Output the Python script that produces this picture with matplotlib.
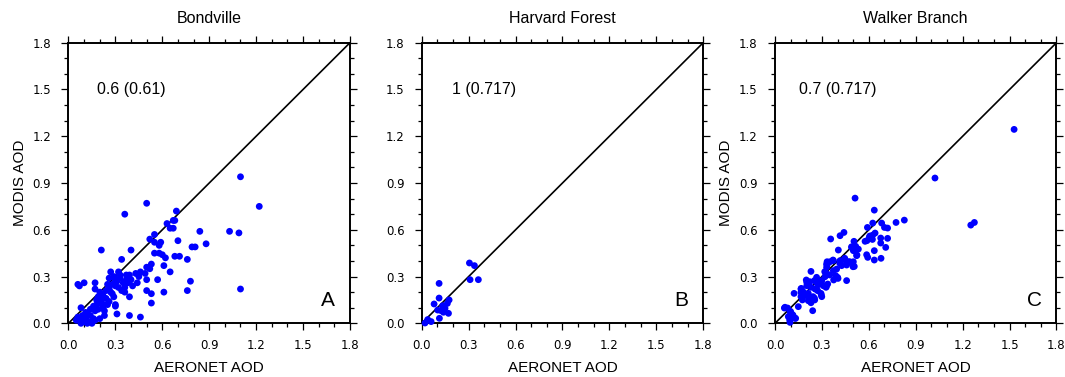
import numpy as np
import matplotlib
matplotlib.use('Agg')
import matplotlib.pyplot as plt
from matplotlib.ticker import MultipleLocator

plt.rcParams['font.family'] = ['Liberation Sans', 'DejaVu Sans']

# ---- data (AERONET AOD, MODIS AOD) ----
bond_x = [1.10, 1.22, 0.50, 0.36, 0.69, 0.68, 0.63, 0.67, 0.65, 0.67, 0.84, 1.03, 1.09,
          0.55, 0.52, 0.55, 0.59, 0.58, 0.70, 0.79, 0.81, 0.88, 0.21, 0.40, 0.55, 0.58,
          0.60, 0.62, 0.68, 0.71, 0.76, 0.34, 0.61, 0.50, 0.52, 0.53, 0.65, 0.27, 0.32,
          0.37, 0.39, 0.43, 0.45, 0.46, 0.50, 0.57, 0.78, 0.50, 0.53, 0.61, 0.76, 1.10,
          0.53, 0.39, 0.46, 0.31, 0.30, 0.06, 0.07, 0.10, 0.17, 0.17, 0.25, 0.08, 0.23,
          0.23, 0.30, 0.31, 0.33, 0.35, 0.37, 0.38, 0.28, 0.30, 0.41, 0.34, 0.36, 0.24,
          0.26, 0.22, 0.21, 0.24, 0.28, 0.29, 0.39, 0.19, 0.20, 0.26, 0.16, 0.18, 0.30,
          0.14, 0.17, 0.12, 0.09, 0.07, 0.11, 0.05, 0.16, 0.13, 0.10, 0.17, 0.20, 0.12,
          0.15, 0.08, 0.14, 0.19, 0.22, 0.25, 0.27, 0.32, 0.36, 0.29, 0.33, 0.40, 0.44,
          0.49, 0.26, 0.20, 0.18, 0.23, 0.11, 0.06]
bond_y = [0.94, 0.75, 0.77, 0.70, 0.72, 0.66, 0.64, 0.66, 0.61, 0.61, 0.59, 0.59, 0.58,
          0.57, 0.54, 0.52, 0.52, 0.50, 0.53, 0.49, 0.49, 0.51, 0.47, 0.47, 0.45, 0.45,
          0.44, 0.42, 0.43, 0.43, 0.41, 0.41, 0.37, 0.36, 0.35, 0.38, 0.33, 0.33, 0.33,
          0.31, 0.31, 0.32, 0.30, 0.33, 0.28, 0.28, 0.27, 0.21, 0.19, 0.20, 0.21, 0.22,
          0.13, 0.05, 0.04, 0.06, 0.11, 0.25, 0.24, 0.26, 0.26, 0.22, 0.25, 0.10, 0.05,
          0.08, 0.28, 0.27, 0.29, 0.26, 0.28, 0.26, 0.25, 0.24, 0.24, 0.21, 0.20, 0.21,
          0.22, 0.18, 0.15, 0.16, 0.19, 0.17, 0.17, 0.17, 0.13, 0.14, 0.11, 0.12, 0.12,
          0.09, 0.08, 0.06, 0.05, 0.03, 0.03, 0.02, 0.03, 0.01, 0.01, 0.02, 0.03, 0.00,
          0.00, 0.00, 0.05, 0.09, 0.10, 0.12, 0.20, 0.23, 0.23, 0.30, 0.31, 0.28, 0.26,
          0.32, 0.29, 0.20, 0.15, 0.12, 0.07, 0.04]

harv_x = [0.305, 0.337, 0.309, 0.362, 0.111, 0.111, 0.079, 0.175, 0.164, 0.134,
          0.149, 0.124, 0.102, 0.139, 0.171, 0.113, 0.038, 0.060, 0.021]
harv_y = [0.387, 0.370, 0.280, 0.280, 0.256, 0.162, 0.124, 0.150, 0.128, 0.113,
          0.096, 0.081, 0.085, 0.071, 0.064, 0.032, 0.024, 0.011, 0.002]

walk_x = [1.529, 1.023, 0.512, 1.252, 1.275, 0.635, 0.827, 0.774, 0.682, 0.625, 0.700,
          0.720, 0.591, 0.640, 0.603, 0.625, 0.676, 0.720, 0.676, 0.576, 0.708, 0.635,
          0.586, 0.593, 0.635, 0.678, 0.356, 0.416, 0.441, 0.505, 0.516, 0.490, 0.501,
          0.533, 0.522, 0.405, 0.352, 0.330, 0.330, 0.373, 0.416, 0.448, 0.469, 0.501,
          0.426, 0.458, 0.507, 0.394, 0.373, 0.388, 0.400, 0.458, 0.330, 0.320, 0.299,
          0.230, 0.266, 0.252, 0.277, 0.309, 0.326, 0.337, 0.203, 0.203, 0.230, 0.166,
          0.166, 0.188, 0.122, 0.213, 0.213, 0.252, 0.294, 0.299, 0.256, 0.273, 0.166,
          0.175, 0.213, 0.230, 0.149, 0.241, 0.060, 0.081, 0.096, 0.107, 0.085, 0.096,
          0.128, 0.096, 0.606, 0.623, 0.588, 0.490, 0.510, 0.524, 0.333, 0.333, 0.371,
          0.414, 0.446, 0.478, 0.499, 0.318, 0.350, 0.403, 0.375, 0.200, 0.222, 0.260,
          0.275, 0.296, 0.328, 0.168, 0.179, 0.190, 0.211, 0.243, 0.254, 0.296, 0.064,
          0.100, 0.115, 0.132, 0.094]
walk_y = [1.244, 0.932, 0.803, 0.630, 0.647, 0.726, 0.662, 0.647, 0.643, 0.643, 0.615,
          0.611, 0.615, 0.579, 0.551, 0.566, 0.547, 0.545, 0.515, 0.526, 0.487, 0.466,
          0.440, 0.423, 0.406, 0.417, 0.541, 0.562, 0.583, 0.526, 0.494, 0.487, 0.466,
          0.476, 0.434, 0.470, 0.395, 0.380, 0.359, 0.402, 0.402, 0.406, 0.395, 0.395,
          0.370, 0.374, 0.365, 0.348, 0.338, 0.306, 0.295, 0.274, 0.320, 0.299, 0.274,
          0.333, 0.295, 0.274, 0.256, 0.241, 0.231, 0.252, 0.263, 0.241, 0.231, 0.220,
          0.199, 0.188, 0.192, 0.192, 0.171, 0.162, 0.192, 0.171, 0.220, 0.209, 0.171,
          0.150, 0.145, 0.132, 0.107, 0.081, 0.098, 0.098, 0.077, 0.060, 0.043, 0.049,
          0.032, 0.006, 0.560, 0.538, 0.530, 0.491, 0.470, 0.438, 0.395, 0.374, 0.406,
          0.385, 0.417, 0.395, 0.363, 0.331, 0.310, 0.288, 0.278, 0.278, 0.267, 0.267,
          0.246, 0.256, 0.235, 0.224, 0.203, 0.182, 0.171, 0.171, 0.150, 0.182, 0.103,
          0.075, 0.053, 0.032, 0.021]

sites = ['Bondville', 'Harvard Forest', 'Walker Branch']
stats = ['0.6 (0.61)', '1 (0.717)', '0.7 (0.717)']
letters = ['A', 'B', 'C']
xs = [bond_x, harv_x, walk_x]
ys = [bond_y, harv_y, walk_y]

fig = plt.figure(figsize=(10.65, 3.77), dpi=100)
lefts = [0.0643, 0.3960, 0.7277]

for i in range(3):
    ax = fig.add_axes([lefts[i], 0.1424, 0.2643, 0.7443])
    ax.plot([0, 1.8], [0, 1.8], color='black', lw=1.2, zorder=2)
    ax.scatter(xs[i], ys[i], s=24, color='#0000ff', edgecolors='none', zorder=3, clip_on=False)
    ax.set_xlim(0, 1.8)
    ax.set_ylim(0, 1.8)
    ax.xaxis.set_major_locator(MultipleLocator(0.3))
    ax.yaxis.set_major_locator(MultipleLocator(0.3))
    ax.xaxis.set_minor_locator(MultipleLocator(0.1))
    ax.yaxis.set_minor_locator(MultipleLocator(0.1))
    ax.xaxis.set_major_formatter(plt.FormatStrFormatter('%.1f'))
    ax.yaxis.set_major_formatter(plt.FormatStrFormatter('%.1f'))
    ax.tick_params(which='both', direction='out', top=True, right=True, width=0.9)
    ax.tick_params(which='major', length=5)
    ax.tick_params(which='minor', length=3)
    ax.tick_params(axis='x', which='major', labelsize=8.5, pad=6)
    ax.tick_params(axis='y', which='major', labelsize=8.5, pad=7.5)
    for lab in ax.get_xticklabels() + ax.get_yticklabels():
        lab.set_family(['DejaVu Sans'])
    for sp in ax.spines.values():
        sp.set_linewidth(1.4)
    ax.text(0.5, 1.069, sites[i], transform=ax.transAxes, ha='center', va='baseline', fontsize=11.5)
    ax.text(0.4, 1.5, stats[i], ha='center', va='center', fontsize=11.5)
    ax.text(1.66, 0.145, letters[i], ha='center', va='center', fontsize=15)
    ax.set_xlabel('AERONET AOD', fontsize=11, labelpad=7)
    if i != 1:
        ax.set_ylabel('MODIS AOD', fontsize=11, labelpad=4)

plt.savefig('out.png', dpi=100)
